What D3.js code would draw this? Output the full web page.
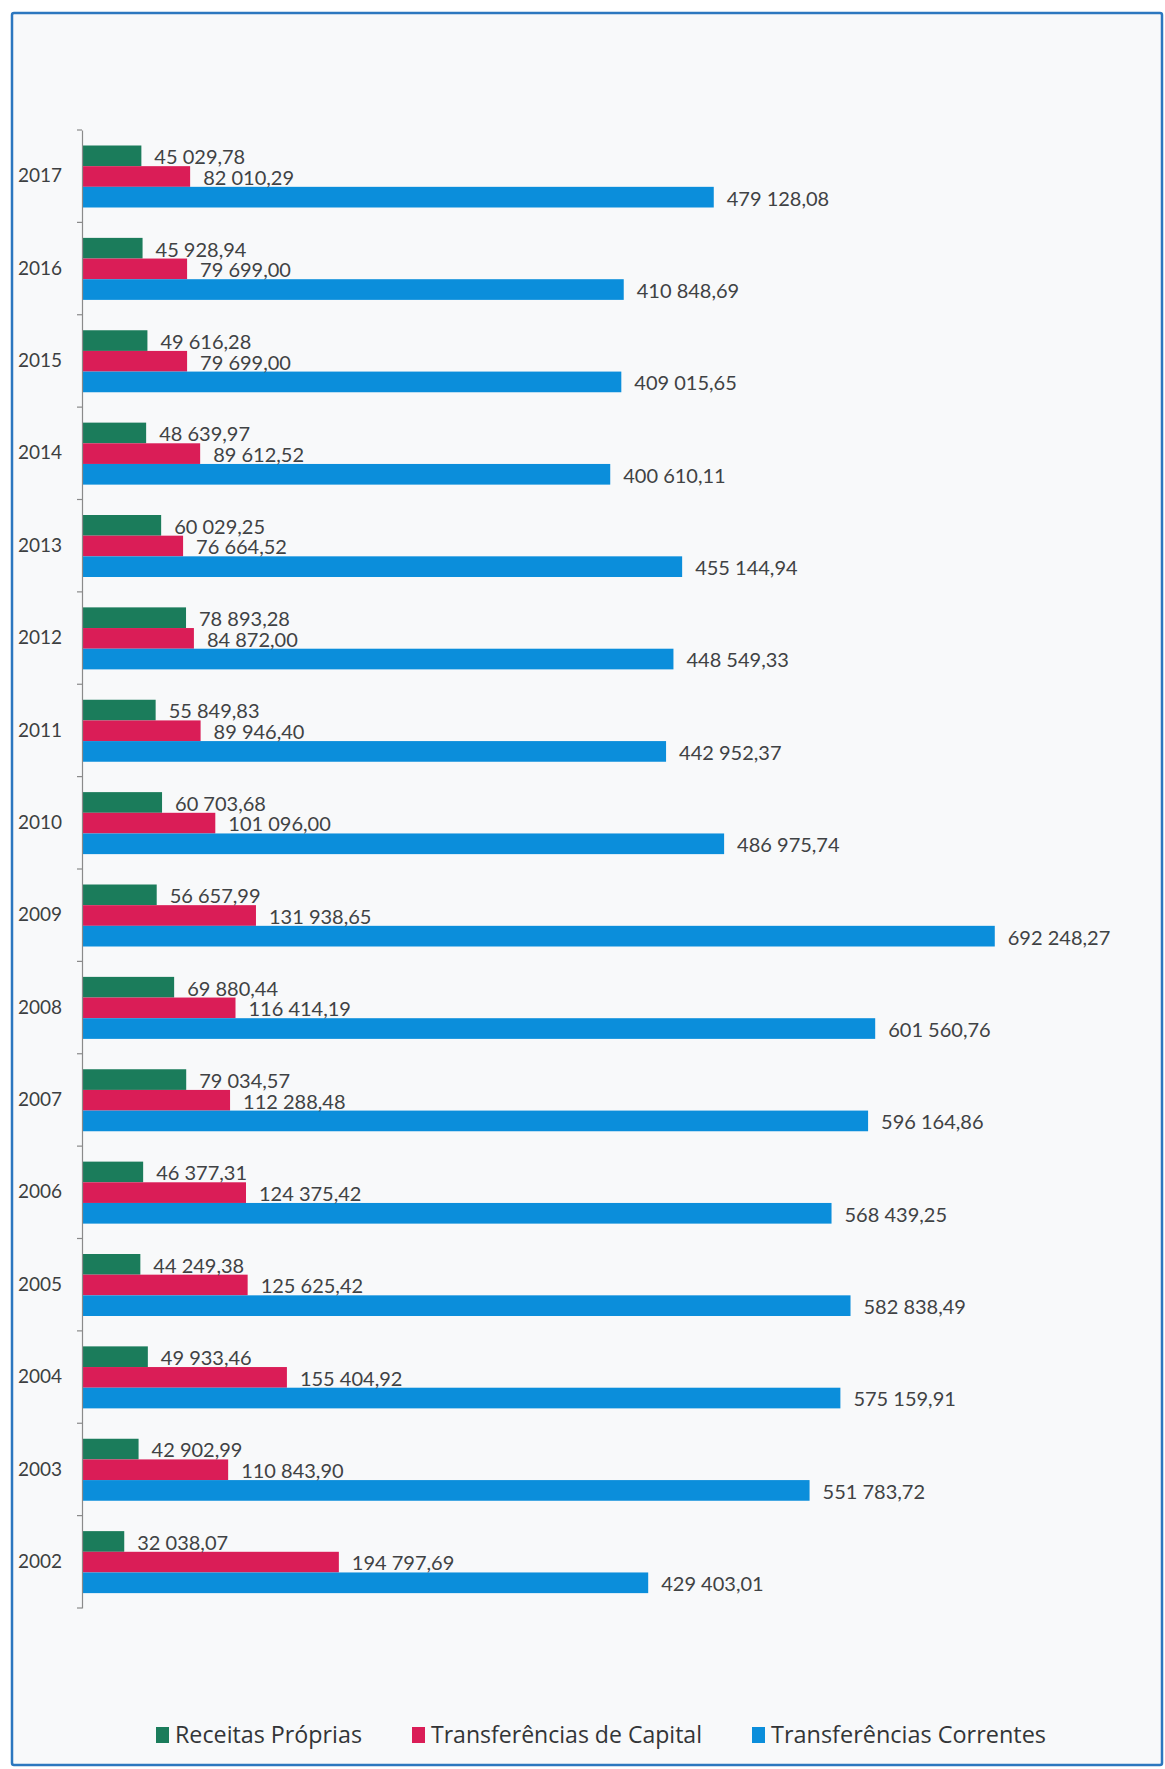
<!DOCTYPE html>
<html>
<head>
<meta charset="utf-8">
<script src="https://cdn.jsdelivr.net/npm/d3@7"></script>
<style>
  body { margin: 0; background: #fff; }
</style>
</head>
<body>
<svg id="chart" width="1165" height="1769"></svg>
<script>
// Daten (von oben nach unten wie im Bild)
const years = ["2017", "2016", "2015", "2014", "2013", "2012", "2011", "2010",
               "2009", "2008", "2007", "2006", "2005", "2004", "2003", "2002"];

const receitasProprias = [45029.78, 45928.94, 49616.28, 48639.97, 60029.25, 78893.28, 55849.83, 60703.68,
                          56657.99, 69880.44, 79034.57, 46377.31, 44249.38, 49933.46, 42902.99, 32038.07];

const transfCapital = [82010.29, 79699.00, 79699.00, 89612.52, 76664.52, 84872.00, 89946.40, 101096.00,
                       131938.65, 116414.19, 112288.48, 124375.42, 125625.42, 155404.92, 110843.90, 194797.69];

const transfCorrentes = [479128.08, 410848.69, 409015.65, 400610.11, 455144.94, 448549.33, 442952.37, 486975.74,
                         692248.27, 601560.76, 596164.86, 568439.25, 582838.49, 575159.91, 551783.72, 429403.01];

const seriesNames = ["Receitas Próprias", "Transferências de Capital", "Transferências Correntes"];
const seriesColors = ["#1b7c5b", "#da1d57", "#0b8edb"];

const svg = d3.select("#chart");

// Rahmen (gescannte Seite)
svg.append("rect")
  .attr("x", 12).attr("y", 13)
  .attr("width", 1150).attr("height", 1752)
  .attr("rx", 2)
  .attr("fill", "#f8f9fa")
  .attr("stroke", "#2c77bf")
  .attr("stroke-width", 2.5);

const rows = years.map((y, i) => ({
  year: y,
  values: [receitasProprias[i], transfCapital[i], transfCorrentes[i]]
}));

const fmt = d3.formatLocale({ decimal: ",", thousands: " ", grouping: [3] }).format(",.2f");

const x = d3.scaleLinear()
  .domain([0, 700000])
  .range([82, 1005]);

const y0 = d3.scaleBand()
  .domain(years)
  .range([130, 1608])
  .padding(0);

const y1 = d3.scaleBand()
  .domain(d3.range(seriesNames.length))
  .range([15.5, 77.5])
  .padding(0);

// Gruppen pro Jahr
const groups = svg.append("g")
  .selectAll("g")
  .data(rows)
  .join("g")
  .attr("transform", d => `translate(0, ${y0(d.year)})`);

groups.selectAll("rect")
  .data(d => d.values.map((v, k) => ({ v, k })))
  .join("rect")
  .attr("x", x(0))
  .attr("y", d => y1(d.k))
  .attr("width", d => x(d.v) - x(0))
  .attr("height", y1.bandwidth())
  .attr("fill", d => seriesColors[d.k]);

// Werte-Labels
groups.selectAll("text")
  .data(d => d.values.map((v, k) => ({ v, k })))
  .join("text")
  .attr("x", d => x(d.v) + 13)
  .attr("y", d => y1(d.k) + y1.bandwidth() - 2)
  .attr("fill", "#404244")
  .style("font-family", "Lato, sans-serif")
  .style("font-size", "20px")
  .text(d => fmt(d.v));

// Y-Achse
const yAxis = svg.append("g")
  .attr("transform", `translate(${x(0)}, 0)`)
  .call(d3.axisLeft(y0).tickSize(0).tickPadding(20));

yAxis.select(".domain").attr("stroke", "#8a8a8a").attr("stroke-width", 1.2);
yAxis.selectAll("text")
  .attr("fill", "#3d3f41")
  .style("font-family", "Lato, sans-serif")
  .style("font-size", "19px");

// Striche an den Bandgrenzen
const bounds = years.map(d => y0(d)).concat([y0.range()[1]]);
svg.append("g")
  .selectAll("line")
  .data(bounds)
  .join("line")
  .attr("x1", x(0) - 5)
  .attr("x2", x(0))
  .attr("y1", d => d)
  .attr("y2", d => d)
  .attr("stroke", "#8a8a8a")
  .attr("stroke-width", 1.2);

// Legende
const legendWidths = [187, 271, 275];
const legend = svg.append("g").attr("transform", "translate(156, 1727)");
let lx = 0;
seriesNames.forEach((name, i) => {
  const item = legend.append("g").attr("transform", `translate(${lx}, 0)`);
  item.append("rect")
    .attr("width", 13)
    .attr("height", 16)
    .attr("fill", seriesColors[i]);
  item.append("text")
    .attr("x", 19)
    .attr("y", 16)
    .attr("fill", "#333537")
    .attr("textLength", legendWidths[i])
    .attr("lengthAdjust", "spacingAndGlyphs")
    .style("font-family", "'Open Sans', sans-serif")
    .style("font-size", "24px")
    .text(name);
  lx += 19 + legendWidths[i] + 50;
});
</script>
</body>
</html>
